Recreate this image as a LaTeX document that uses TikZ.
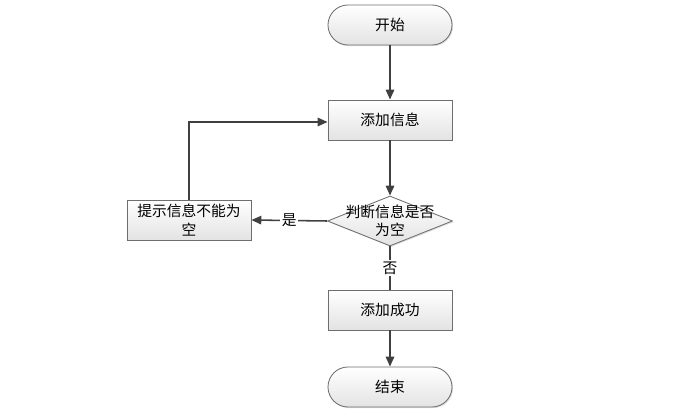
\documentclass[tikz,border=0pt]{standalone}
\usepackage{fontspec}
\setmainfont{Noto Sans CJK SC}
\usetikzlibrary{shapes.geometric,arrows.meta,shadows}
\definecolor{edgeline}{HTML}{404040}
\definecolor{boxline}{HTML}{6E6E6E}
\tikzset{
  box/.style={draw=boxline, line width=0.6pt, minimum width=3.1cm, minimum height=1cm,
              top color=white, bottom color=gray!22, align=center,
              font=\fontsize{10.5}{13}\selectfont, inner sep=1pt,
              drop shadow={opacity=0.25, shadow xshift=0.8pt, shadow yshift=-0.8pt}},
  terminal/.style={box, rounded corners=0.5cm},
  decision/.style={box, diamond, minimum width=3.125cm, minimum height=1.25cm, inner sep=0pt},
  flow/.style={draw=edgeline, line width=1.1pt, -{Triangle[length=7pt, width=6pt]}},
  flowplain/.style={draw=edgeline, line width=1.1pt},
  tag/.style={fill=white, inner sep=1pt, font=\fontsize{10.5}{13}\selectfont},
}

\begin{document}
\begin{tikzpicture}[x=0.025cm, y=-0.025cm]
    \useasboundingbox (0,0) rectangle (692,420);
    \node[terminal] (start) at (390, 25) {开始};
    \node[box] (addinfo) at (390, 120) {添加信息};
    \node[decision] (check) at (390, 221) {};
    \node[font=\fontsize{10.5}{12.5}\selectfont, align=center] (checktxt) at (390, 221) {判断信息是否\\为空};
    \node[box] (hint) at (189, 220) {提示信息不能为\\空};
    \node[box] (success) at (390, 310) {添加成功};
    \node[terminal] (finish) at (390, 387) {结束};
    \coordinate (corner) at (189, 122);

    \draw[flow] (start) -- (addinfo);
    \draw[flow] (addinfo) -- (check);
    \draw[flow] (check.west) -- node[tag] {是} (hint.east);
    \draw[flowplain] (check.south) -- node[tag] {否} (success.north);
    \draw[flow] (success) -- (finish);
    \draw[flow] (hint.north) -- (corner) -- (addinfo.west |- corner);
  \end{tikzpicture}
\end{document}
